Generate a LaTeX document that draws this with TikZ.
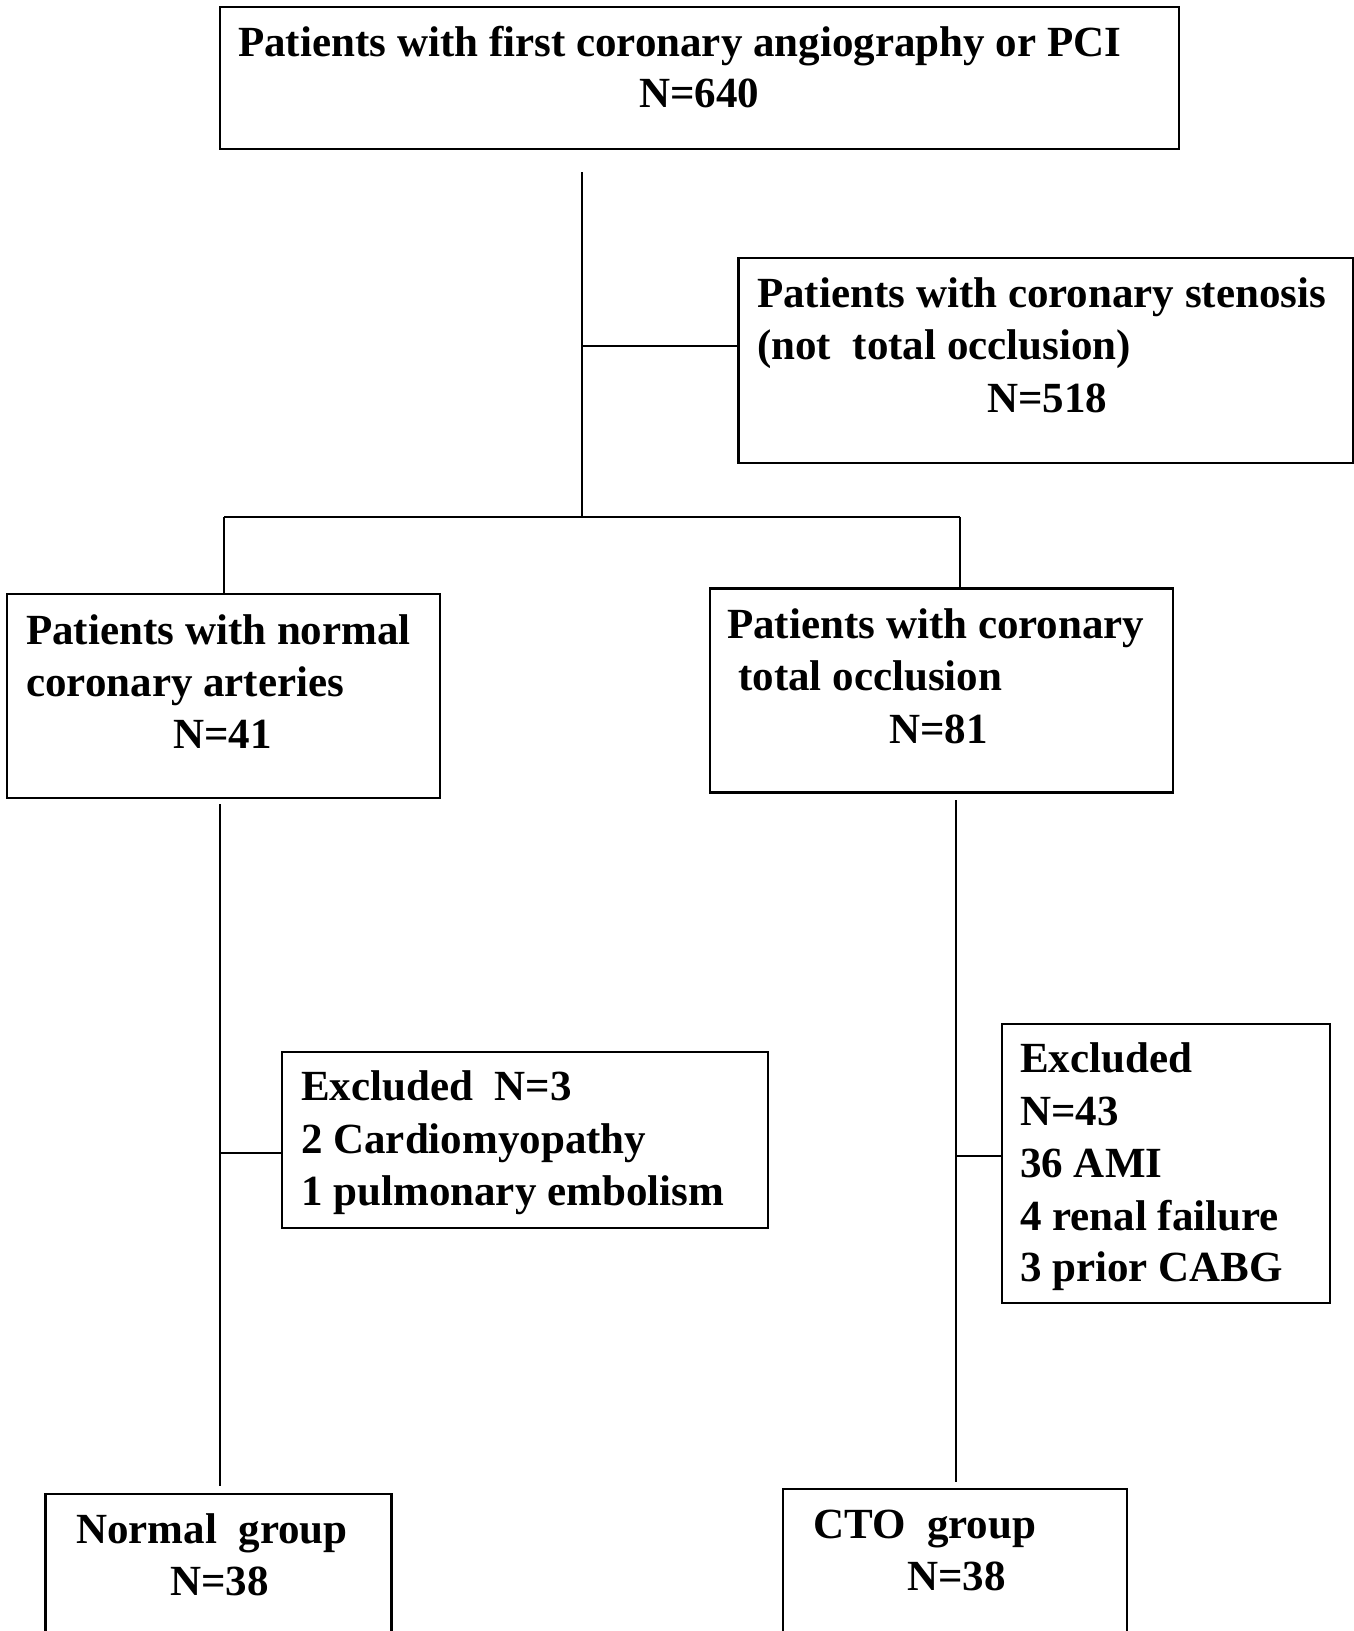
\documentclass[tikz,border=0pt]{standalone}
\usepackage{fontspec}
\setmainfont{Liberation Serif}
\begin{document}
\begin{tikzpicture}[x=1pt,y=-1pt,
  box/.style={draw=black, line width=2.6pt, inner sep=0pt},
  conn/.style={draw=black, line width=1.8pt},
  txt/.style={anchor=base west, inner sep=0pt, font=\fontsize{43}{52}\selectfont\bfseries}]
\useasboundingbox (0,0) rectangle (1354,1631);
\fill[white] (0,0) rectangle (1354,1631);
% boxes
\node[box, minimum width=959pt, minimum height=142pt] (top) at (699.5,78) {};
\node[box, minimum width=615pt, minimum height=205pt] (sten) at (1046,360.5) {};
\node[box, minimum width=433pt, minimum height=204pt] (norm) at (223.5,696) {};
\node[box, minimum width=463pt, minimum height=204pt] (occl) at (941.5,690.5) {};
\node[box, minimum width=486pt, minimum height=176pt] (exa) at (525,1140) {};
\node[box, minimum width=328pt, minimum height=279pt] (exb) at (1166,1163.5) {};
\node[box, minimum width=346pt, minimum height=200pt] (ngrp) at (218.5,1594) {};
\node[box, minimum width=344pt, minimum height=200pt] (cgrp) at (955,1589) {};
% texts
\node[txt] (t1) at (238,56) {Patients with first coronary angiography or PCI};
\node[txt] (t2) at (639,107) {N=640};
\node[txt] (s1) at (757,307) {Patients with coronary stenosis};
\node[txt] (s2) at (757,359) {(not\ \ total occlusion)};
\node[txt] (s3) at (987,412) {N=518};
\node[txt] (n1) at (26,644) {Patients with normal};
\node[txt] (n2) at (26,696) {coronary arteries};
\node[txt] (n3) at (173,748) {N=41};
\node[txt] (o1) at (727,638) {Patients with coronary};
\node[txt] (o2) at (738,690) {total occlusion};
\node[txt] (o3) at (889,743) {N=81};
\node[txt] (a1) at (301,1100) {Excluded\ \ N=3};
\node[txt] (a2) at (301,1153) {2 Cardiomyopathy};
\node[txt] (a3) at (301,1205) {1 pulmonary embolism};
\node[txt] (b1) at (1020,1072) {Excluded};
\node[txt] (b2) at (1020,1125) {N=43};
\node[txt] (b3) at (1020,1177) {36 AMI};
\node[txt] (b4) at (1020,1230) {4 renal failure};
\node[txt] (b5) at (1020,1281) {3 prior CABG};
\node[txt] (g1) at (76,1543) {Normal\ \ group};
\node[txt] (g2) at (170,1595) {N=38};
\node[txt] (h1) at (813,1538) {CTO\ \ group};
\node[txt] (h2) at (907,1590) {N=38};
% connectors
\coordinate (trT) at (582,172);
\coordinate (trB) at (582,517);
\coordinate (trM) at (582,346);
\coordinate (barL) at (224,517);
\coordinate (barR) at (960,517);
\draw[conn] (trT) -- (trB);
\draw[conn] (trM) -- (sten.west |- trM);
\draw[conn] (barL) -- (barR);
\draw[conn] (barL) -- (norm.north -| barL);
\draw[conn] (barR) -- (occl.north -| barR);
\coordinate (lT) at (220,804);
\coordinate (lB) at (220,1486);
\coordinate (rT) at (956,800);
\coordinate (rB) at (956,1482);
\draw[conn] (lT) -- (lB);
\draw[conn] (rT) -- (rB);
\draw[conn] (220,1153) -- (exa.west |- 0,1153);
\draw[conn] (956,1156) -- (exb.west |- 0,1156);
\end{tikzpicture}
\end{document}
